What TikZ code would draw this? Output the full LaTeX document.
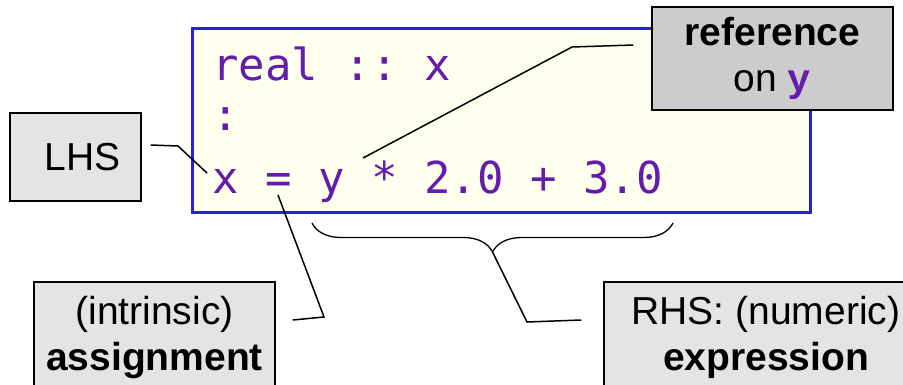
\documentclass[tikz,border=0pt]{standalone}
\usepackage{fontspec}
\setmainfont{Liberation Sans}
\setmonofont{DejaVu Sans Mono}
\newfontfamily\refmono{Liberation Mono}
\usetikzlibrary{
  positioning,
  calc,
  decorations.pathreplacing
}
\definecolor{codepurple}{RGB}{100,28,170}
\definecolor{codeblue}{RGB}{34,34,221}
\definecolor{codeback}{RGB}{255,255,238}
\definecolor{notegray}{RGB}{228,228,228}
\definecolor{notedark}{RGB}{204,204,204}
\tikzset{
  codebox/.style={
    rectangle, draw=codeblue, line width=3pt, fill=codeback,
    minimum width=618pt, minimum height=184pt, inner sep=0pt
  },
  codeline/.style={
    anchor=base west, inner sep=0pt, text=codepurple,
    font=\fontsize{44}{56}\selectfont\ttfamily
  },
  note/.style={
    rectangle, draw=black, line width=1.5pt, fill=notegray,
    align=center, inner sep=0pt, font=\fontsize{39}{46}\selectfont
  },
  noteD/.style={
    note, fill=notedark
  },
  link/.style={draw=black, line width=1.5pt},
  bracelink/.style={
    draw=black, line width=1.3pt, decorate,
    decoration={brace, amplitude=29pt}
  }
}

\begin{document}
\begin{tikzpicture}[x=1pt,y=-1pt]
  \useasboundingbox (0,0) rectangle (903,384);
  % Code box
  \node[codebox] (code) at (501,120) {};
  \node[codeline] (line1) at (212,80) {real :: x};
  \node[codeline] (line2) at (212,130) {:};
  \node[codeline] (line3) at (212,193) {x = y * 2.0 + 3.0};
  % Points in the code
  \coordinate (xtip) at (207,173);
  \coordinate (ytip) at (363,158);
  \coordinate (eqtip) at (278,195);
  \coordinate (bracetip) at (492.5,252);
  % Brace under the right hand side
  \draw[bracelink] (673,223) -- (312,223);
  % Notes
  \node[note, minimum width=131pt, minimum height=88pt] (lhs) at (75.5,157)
    {\hspace*{14pt}LHS};
  \node[noteD, minimum width=241pt, minimum height=103pt] (ref) at (772.5,58.5)
    {\textbf{reference}\\on \textcolor{codepurple}{\refmono\bfseries y}};
  \node[note, minimum width=241pt, minimum height=110pt] (assign) at (154.5,337)
    {(intrinsic)\\\textbf{assignment}};
  \node[note, minimum width=324pt, minimum height=110pt] (rhs) at (766,337)
    {RHS: (numeric)\\\textbf{expression}};
  % Connectors
  \draw[link] ($(lhs.east)+(9,-12)$) -- (178,146) -- (xtip);
  \draw[link] ($(ref.west)+(-18,-13.5)$) -- (572,47) -- (ytip);
  \draw[link] (eqtip) -- (324,317) -- ($(assign.east)+(17,-17)$);
  \draw[link] (bracetip) -- (527,322) -- ($(rhs.west)+(-22,-17)$);
\end{tikzpicture}
\end{document}
